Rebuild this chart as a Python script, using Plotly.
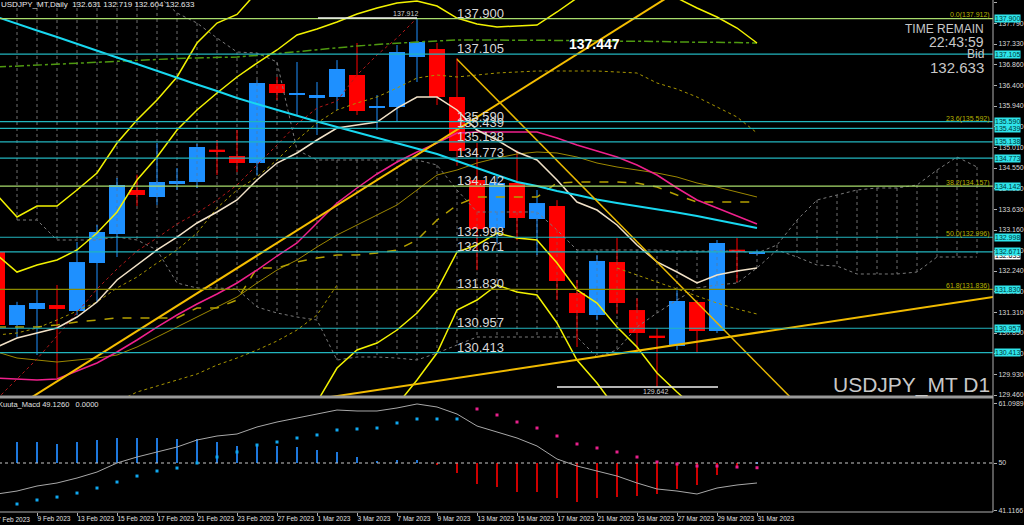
import plotly.graph_objects as go

# ---------------- data (bar index k: 0 = 7 Feb 2023) ----------------
DATES = ["7 Feb 2023", "8 Feb 2023", "9 Feb 2023", "10 Feb 2023", "13 Feb 2023", "14 Feb 2023",
         "15 Feb 2023", "16 Feb 2023", "17 Feb 2023", "20 Feb 2023", "21 Feb 2023", "22 Feb 2023",
         "23 Feb 2023", "24 Feb 2023", "27 Feb 2023", "28 Feb 2023", "1 Mar 2023", "2 Mar 2023",
         "3 Mar 2023", "6 Mar 2023", "7 Mar 2023", "8 Mar 2023", "9 Mar 2023", "10 Mar 2023",
         "13 Mar 2023", "14 Mar 2023", "15 Mar 2023", "16 Mar 2023", "17 Mar 2023", "20 Mar 2023",
         "21 Mar 2023", "22 Mar 2023", "23 Mar 2023", "24 Mar 2023", "27 Mar 2023", "28 Mar 2023",
         "29 Mar 2023", "30 Mar 2023", "31 Mar 2023"]

OPEN = [132.667, 131.030, 131.389, 131.478, 131.344, 132.420, 133.070, 134.057, 133.900, 134.191,
        134.236, 134.954, 134.819, 134.662, 136.434, 136.187, 136.120, 136.142, 136.635, 135.910,
        135.918, 137.039, 137.218, 136.142, 134.281, 133.205, 134.214, 133.407, 133.698, 131.747,
        131.254, 132.442, 131.366, 130.783, 130.559, 131.546, 130.895, 132.711, 132.631]
HIGH = [132.900, 131.550, 131.815, 131.927, 132.891, 133.272, 134.326, 134.400, 135.110, 134.550,
        135.088, 135.178, 135.402, 136.523, 136.591, 136.927, 136.478, 136.970, 137.353, 136.187,
        137.308, 137.912, 137.353, 137.017, 135.111, 134.390, 134.950, 134.057, 133.830, 132.040,
        132.600, 132.980, 131.630, 130.960, 131.810, 131.590, 132.936, 132.980, 132.719]
LOW = [130.850, 130.760, 130.357, 129.842, 131.250, 131.546, 132.555, 133.700, 133.720, 134.060,
       134.100, 134.393, 134.460, 134.393, 136.075, 135.739, 135.290, 135.851, 135.740, 135.402,
       135.581, 136.478, 135.963, 134.600, 132.260, 132.870, 132.930, 132.600, 131.590, 130.537,
       131.140, 131.280, 130.420, 129.642, 130.470, 130.424, 130.850, 131.990, 132.604]
CLOSE = [131.030, 131.478, 131.523, 131.389, 132.442, 133.115, 134.169, 133.945, 134.236, 134.259,
         135.021, 134.931, 134.662, 136.456, 136.232, 136.232, 136.187, 136.770, 135.828, 135.925,
         137.151, 137.375, 136.142, 134.931, 133.182, 134.214, 133.429, 133.765, 132.016, 131.299,
         132.466, 131.523, 130.851, 130.761, 131.568, 130.895, 132.868, 132.689, 132.633]

CYAN_MA = [137.936, 137.779, 137.633, 137.487, 137.330, 137.174, 137.028, 136.882, 136.725, 136.568,
           136.422, 136.277, 136.120, 135.985, 135.851, 135.727, 135.593, 135.469, 135.346, 135.223,
           135.100, 134.976, 134.864, 134.707, 134.550, 134.393, 134.236, 134.147, 134.035, 133.945,
           133.844, 133.765, 133.698, 133.631, 133.553, 133.474, 133.384, 133.295, 133.205]
MAGENTA_MA = [129.842, 129.819, 129.797, 129.819, 129.999, 130.178, 130.425, 130.694, 130.985, 131.254,
              131.501, 131.725, 131.972, 132.263, 132.577, 132.869, 133.317, 133.765, 134.102, 134.416,
              134.685, 134.909, 135.111, 135.335, 135.357, 135.357, 135.357, 135.357, 135.223, 135.066,
              134.931, 134.797, 134.617, 134.393, 134.102, 133.833, 133.653, 133.474, 133.295]
TENKAN = [130.537, 130.739, 130.851, 130.963, 131.209, 131.546, 132.039, 132.375, 132.712, 133.003,
          133.317, 133.564, 133.833, 134.281, 134.662, 134.887, 135.178, 135.447, 135.514, 135.582,
          135.895, 136.142, 136.142, 135.851, 135.402, 135.178, 134.909, 134.730, 134.281, 133.788,
          133.608, 133.272, 132.824, 132.443, 132.218, 131.972, 132.151, 132.241, 132.308]
RED_DOTTED = [129.371, 129.819, 130.268, 130.783, 131.321, 131.837, 132.286, 132.689, 132.981, 133.295,
              133.541, 133.833, 134.169, 134.617, 135.066, 135.537, 135.895, 136.052, 136.635, 137.084,
              137.465, 137.913]
OLIVE_SOLID = [130.425, 130.290, 130.245, 130.200, 130.245, 130.290, 130.357, 130.537, 130.761, 130.985,
               131.209, 131.434, 131.658, 131.972, 132.263, 132.487, 132.779, 133.048, 133.272, 133.496,
               133.721, 134.057, 134.393, 134.505, 134.662, 134.774, 134.864, 134.909, 134.887, 134.797,
               134.662, 134.573, 134.505, 134.438, 134.348, 134.214, 134.124, 134.012, 133.900]
OLIVE_DOT_UP = [130.806, 130.851, 130.963, 131.142, 131.344, 131.546, 131.860, 132.106, 132.420, 132.712,
                133.093, 133.653, 134.057, 134.348, 134.730, 135.178, 135.559, 135.851, 136.008, 136.142,
                136.344, 136.568, 136.635, 136.591, 136.635, 136.680, 136.703, 136.725, 136.725, 136.725,
                136.725, 136.703, 136.680, 136.456, 136.321, 136.142, 135.918, 135.694, 135.335]
OLIVE_DOT_LOW = [None, None, None, None, None, None, 129.304, 129.528, 129.662, 129.797,
                 129.931, 130.133, 130.290, 130.469, 130.671, 130.918, 131.254, 131.927, None, None,
                 None, None, None, None, None, None, None, None, None, None,
                 None, 132.308, 132.151, 131.994, 131.837, 131.680, 131.523, 131.389, 131.277]
OLIVE_DASH = [130.985, 130.985, 130.985, 131.030, 131.097, 131.142, 131.187, 131.187, 131.187, 131.187,
              131.411, 131.411, 131.591, 132.308, 132.308, 132.443, 132.532, 132.600, 132.600, 132.644,
              132.712, 132.936, 133.384, 133.721, 133.900, 133.900, 133.900, 133.900, 134.214, 134.236,
              134.236, 134.236, 134.214, 134.124, 133.945, 133.788, 133.788, 133.788, 133.788]
GREEN_DASHDOT = [136.815, 136.837, 136.860, 136.882, 136.904, 136.927, 136.949, 136.972, 136.994, 137.005,
                 137.017, 137.028, 137.039, 137.073, 137.117, 137.162, 137.207, 137.252, 137.286, 137.319,
                 137.353, 137.375, 137.398, 137.420, 137.420, 137.420, 137.420, 137.420, 137.420, 137.409,
                 137.398, 137.398, 137.387, 137.387, 137.375, 137.375, 137.364, 137.364, 137.353]
BAND_U1 = [133.945, 133.451, 133.698, 133.698, 134.057, 134.438, 135.111, 135.626, 136.075, 136.591,
           137.353, 137.801, 137.993, 138.496, 138.878]
BAND_U2 = [132.600, 132.218, 132.375, 132.487, 132.712, 133.093, 133.564, 134.281, 134.797, 135.402,
           135.851, 136.232, 136.591, 136.904, 137.196, 137.532, 137.667, 137.824, 138.003, 138.138,
           138.250, 138.295, 138.182, 137.913, 137.779, 137.712, 137.734, 137.756, 138.048, 138.362,
           138.721, 138.945, 138.990, 138.765, 138.362, 138.138, 137.936, 137.689, 137.353]
BAND_L2_START = 14
BAND_L2 = [127.779, 128.519, 129.304, 130.066, 130.469, 130.626, 130.918, 131.299, 131.815, 132.667,
           132.824, 133.093, 132.981, 132.936, 132.420, 131.815, 131.523, 130.985, 130.537, 129.954,
           129.528, 129.124, 128.676]
BAND_L1_START = 19
BAND_L1 = [128.676, 129.236, 129.797, 130.402, 131.366, 131.591, 131.927, 131.770, 131.703, 131.075,
           130.245, 129.730, 129.124, 128.452]

CLOUD_START = 1
CLOUD_HI = [138.541, 138.541, 138.541, 138.541, 138.541, 138.541, 138.541, 138.429, 138.026, 137.801,
            137.465, 137.151, 137.129, 136.927, 134.954, 134.730, 134.730, 134.730, 134.730, 134.730,
            134.730, 134.617, 134.057, 133.564, 133.564, 133.564, 133.564, 133.160, 132.712, 132.712,
            132.712, 132.712, 132.712, 132.689, 132.689, 132.689, 132.689, 132.644, 132.824, 133.384,
            133.833, 133.945, 134.057, 134.102, 134.102, 134.169, 134.505, 134.797, 134.573]
CLOUD_LO = [133.384, 133.384, 132.936, 132.936, 132.936, 133.003, 132.936, 132.712, 131.972, 131.860,
            131.860, 131.837, 131.434, 131.299, 131.209, 131.142, 130.245, 130.313, 130.313, 130.290,
            130.245, 130.402, 130.582, 130.761, 130.761, 130.761, 130.761, 130.761, 130.761, 130.313,
            130.469, 130.985, 131.299, 131.591, 131.860, 131.927, 131.972, 132.308, 132.712, 132.555,
            132.375, 132.353, 132.174, 132.174, 132.174, 132.218, 132.555, 132.555, 132.555]

TREND1_K, TREND1_P = [0, 34], [128.92, 138.51]
TREND2_K, TREND2_P = [16, 50], [129.37, 131.67]
TREND3_K, TREND3_P = [23, 40], [136.99, 129.26]

HIGH_MARK_K, HIGH_MARK_P = [16.05, 21], 137.912
LOW_MARK_K, LOW_MARK_P = [28, 36.05], 129.642

LEVELS = [137.900, 137.105, 135.590, 135.439, 135.138, 134.773, 134.142,
          132.998, 132.671, 131.830, 130.957, 130.413]
FIB_NAMES = ["0.0", "23.6", "38.2", "50.0", "61.8"]
FIB_PRICES = [137.912, 135.592, 134.157, 132.996, 131.836]
BID = 132.633
MA_LABEL = 137.447

PRICE_TICKS = [138.250, 137.790, 137.330, 136.860, 136.400, 135.940, 135.480, 135.010, 134.550,
               134.090, 133.630, 133.160, 132.700, 132.240, 131.780, 131.310, 130.850, 130.390,
               129.930, 129.460]

MACD_HIST = [53.89, 53.89, 53.52, 53.89, 54.26, 54.63, 54.63, 54.63, 54.44, 54.44,
             53.89, 53.15, 53.52, 53.15, 52.96, 52.41, 52.04, 51.11, 50.37, 50.56,
             50.56, 49.63, 48.15, 46.11, 45.56, 44.63, 44.63, 43.52, 42.78, 43.52,
             43.70, 43.89, 44.26, 45.19, 45.93, 47.78, 49.07, 50.05]
MACD_LINE = [44.26, 44.81, 45.74, 46.30, 47.22, 48.33, 50.00, 51.11, 52.04, 52.96,
             54.26, 55.00, 55.37, 56.67, 57.59, 58.33, 59.07, 59.81, 59.63, 59.63,
             60.19, 60.93, 60.37, 59.07, 56.85, 55.74, 54.63, 53.15, 50.74, 49.44,
             48.52, 47.59, 46.30, 45.19, 44.81, 44.26, 45.37, 45.93, 46.30]
MACD_DOTS_UP = [42.41, 43.15, 43.70, 44.44, 45.37, 46.48, 47.59, 48.52, 49.07, 50.00,
                51.11, 52.04, 53.33, 53.89, 54.63, 55.19, 56.11, 56.30, 56.48, 57.41,
                58.15, 58.15, 58.15]
MACD_DOTS_DOWN = [60.00, 58.89, 57.59, 56.48, 55.00, 53.52, 52.78, 52.04, 51.11, 50.19,
                  49.81, 49.44, 49.44, 49.26, 49.126]
MACD_TICKS = [61.0989, 50, 41.1166]

# ---------------- geometry ----------------
W, H = 1024, 525
PLOT_W = 993
MAIN_BOTTOM_PX, MACD_TOP_PX, MACD_BOTTOM_PX = 397, 399, 512
X_RANGE = [0.15, 49.8]
Y_RANGE = [129.416, 138.317]
Y2_RANGE = [40.93, 61.85]


def py(px):  # paper y from pixel y
    return 1 - px / H


def pxx(px):  # paper x from pixel x
    return px / PLOT_W


FONT = "Liberation Sans"
BLUE = "#1E90FF"
RED = "#FF0000"
TEAL = "#22B4BE"
LEVEL_COLORS = {137.900: "#A8DC6C", 134.142: "#A8DC6C", 131.830: "#8C8A00"}

fig = go.Figure()
n = len(OPEN)
ks = list(range(n))
up = [CLOSE[i] >= OPEN[i] for i in ks]

# candle bodies (first trace so lines are drawn above)
for flag, col in ((True, BLUE), (False, RED)):
    idx = [i for i in ks if up[i] == flag]
    fig.add_trace(go.Bar(
        x=idx, base=[min(OPEN[i], CLOSE[i]) for i in idx],
        y=[max(abs(CLOSE[i] - OPEN[i]), 0.03) for i in idx],
        width=0.8, marker=dict(color=col, line=dict(width=0)),
        yaxis="y", xaxis="x", hoverinfo="skip", showlegend=False))

# MACD histogram
hk = list(range(1, len(MACD_HIST) + 1))
for flag, col in ((True, "#1E78DC"), (False, "#CC0000")):
    idx = [j for j in range(len(MACD_HIST)) if (MACD_HIST[j] >= 50) == flag]
    fig.add_trace(go.Bar(
        x=[hk[j] for j in idx], base=50, y=[MACD_HIST[j] - 50 for j in idx],
        width=0.1, marker=dict(color=col, line=dict(width=0)),
        yaxis="y2", xaxis="x", hoverinfo="skip", showlegend=False))

# ichimoku cloud hatches and spans
ck = list(range(CLOUD_START, CLOUD_START + len(CLOUD_HI)))
hx, hy = [], []
for j, k in enumerate(ck):
    hx += [k, k, None]
    hy += [CLOUD_HI[j], CLOUD_LO[j], None]
fig.add_trace(go.Scatter(x=hx, y=hy, mode="lines", line=dict(color="#6E6E6E", width=1, dash="dot"),
                         hoverinfo="skip", showlegend=False))
for arr in (CLOUD_HI, CLOUD_LO):
    fig.add_trace(go.Scatter(x=ck, y=arr, mode="lines", line=dict(color="#7A7A7A", width=1, dash="dot"),
                             hoverinfo="skip", showlegend=False))

# wicks
for flag, col in ((True, BLUE), (False, RED)):
    wx, wy = [], []
    for i in ks:
        if up[i] == flag:
            wx += [i, i, None]
            wy += [LOW[i], HIGH[i], None]
    fig.add_trace(go.Scatter(x=wx, y=wy, mode="lines", line=dict(color=col, width=1),
                             hoverinfo="skip", showlegend=False))


def line(x, y, color, width=1.0, dash="solid"):
    fig.add_trace(go.Scatter(x=x, y=y, mode="lines", line=dict(color=color, width=width, dash=dash),
                             hoverinfo="skip", showlegend=False, connectgaps=False))


line(ks, OLIVE_DOT_LOW, "#A89600", 1, "dot")
line(ks, OLIVE_DOT_UP, "#A89600", 1, "dot")
line(ks, OLIVE_SOLID, "#9C8700", 1)
line(ks, OLIVE_DASH, "#B4A000", 1.5, "dash")
line(list(range(len(RED_DOTTED))), RED_DOTTED, "#B01818", 1, "dot")
line(ks, GREEN_DASHDOT, "#4F9A10", 1.5, "dashdot")
line(list(range(len(BAND_U1))), BAND_U1, "#F2F200", 1.5)
line(ks, BAND_U2, "#F2F200", 1.5)
line(list(range(BAND_L2_START, BAND_L2_START + len(BAND_L2))), BAND_L2, "#F2F200", 1.5)
line(list(range(BAND_L1_START, BAND_L1_START + len(BAND_L1))), BAND_L1, "#F2F200", 1.5)
line(ks, MAGENTA_MA, "#F0208C", 1.5)
line(ks, TENKAN, "#F2E2C8", 1.5)
line(ks, CYAN_MA, "#18D8F0", 2)
line(TREND1_K, TREND1_P, "#F5BE00", 2)
line(TREND2_K, TREND2_P, "#F0BA00", 2)
line(TREND3_K, TREND3_P, "#E8B800", 1.5)

# horizontal levels
for lv in LEVELS:
    line([-2, 52], [lv, lv], LEVEL_COLORS.get(lv, TEAL), 1.2)
line(HIGH_MARK_K, [HIGH_MARK_P] * 2, "#F0F0F0", 1.5)
line(LOW_MARK_K, [LOW_MARK_P] * 2, "#F0F0F0", 1.5)

# MACD line, zero(50) line and dots
fig.add_trace(go.Scatter(x=[-2, 52], y=[50, 50], mode="lines", yaxis="y2",
                         line=dict(color="#C8C8C8", width=1, dash="dot"), hoverinfo="skip", showlegend=False))
fig.add_trace(go.Scatter(x=ks, y=MACD_LINE, mode="lines", yaxis="y2",
                         line=dict(color="#A8A8A8", width=1), hoverinfo="skip", showlegend=False))
fig.add_trace(go.Scatter(x=list(range(1, 1 + len(MACD_DOTS_UP))), y=MACD_DOTS_UP, mode="markers", yaxis="y2",
                         marker=dict(color="#10A8F0", size=3, symbol="square"), hoverinfo="skip", showlegend=False))
d0 = 1 + len(MACD_DOTS_UP)
fig.add_trace(go.Scatter(x=list(range(d0, d0 + len(MACD_DOTS_DOWN))), y=MACD_DOTS_DOWN, mode="markers",
                         yaxis="y2", marker=dict(color="#E8208C", size=3, symbol="square"),
                         hoverinfo="skip", showlegend=False))

# ---------------- annotations ----------------
ann = []
for lv in LEVELS:
    ann.append(dict(x=pxx(455), xref="paper", y=lv, yref="y", xanchor="left", yanchor="bottom",
                    text=f"{lv:.3f}", showarrow=False, yshift=-4,
                    font=dict(family=FONT, size=13, color="#D8D8D8")))
for name, p in zip(FIB_NAMES, FIB_PRICES):
    ann.append(dict(x=1, xref="paper", y=p, yref="y", xanchor="right", yanchor="bottom", xshift=-1, yshift=-3,
                    text=f"{name}({p:.3f})", showarrow=False, font=dict(family=FONT, size=7, color="#B8B400")))
ann.append(dict(x=1, xref="paper", y=BID, yref="y", xanchor="left", yanchor="middle", xshift=1, yshift=-2,
                text=f"{BID:.3f}", showarrow=False, bgcolor="#FFFFFF", borderpad=0,
                font=dict(family=FONT, size=7, color="#000000")))
for lv in LEVELS:
    ann.append(dict(x=1, xref="paper", y=lv, yref="y", xanchor="left", yanchor="middle", xshift=1,
                    text=f"{lv:.3f}", showarrow=False, bgcolor="#2EE4EA", borderpad=0,
                    font=dict(family=FONT, size=7, color="#003838")))
ann.append(dict(x=(HIGH_MARK_K[0] + HIGH_MARK_K[1]) / 2 + 1.9, xref="x", y=HIGH_MARK_P, yref="y",
                xanchor="center", yanchor="bottom", yshift=-1, text=f"{HIGH_MARK_P:.3f}", showarrow=False,
                font=dict(family=FONT, size=7, color="#D0D0D0")))
ann.append(dict(x=(LOW_MARK_K[0] + LOW_MARK_K[1]) / 2 + 0.9, xref="x", y=LOW_MARK_P, yref="y",
                xanchor="center", yanchor="top", yshift=1, text=f"{LOW_MARK_P:.3f}", showarrow=False,
                font=dict(family=FONT, size=7, color="#D0D0D0")))
ann.append(dict(x=pxx(567), xref="paper", y=py(44), yref="paper", xanchor="left", yanchor="middle",
                text=f"<b>{MA_LABEL:.3f}</b>", showarrow=False, font=dict(family=FONT, size=14, color="#FFFFFF")))
for txt, ypx, size in (("TIME REMAIN", 29, 12), ("22:43:59", 42, 14), ("Bid", 54, 12),
                       (f"{BID:.3f}", 67, 15)):
    ann.append(dict(x=pxx(986), xref="paper", y=py(ypx), yref="paper", xanchor="right", yanchor="middle",
                    text=txt, showarrow=False, font=dict(family=FONT, size=size, color="#C8C8C8")))
ann.append(dict(x=pxx(992), xref="paper", y=py(385), yref="paper", xanchor="right", yanchor="middle",
                text="USDJPY_MT D1", showarrow=False, font=dict(family=FONT, size=21, color="#C8C8C8")))
ann.append(dict(x=0, xref="paper", y=py(4), yref="paper", xanchor="left", yanchor="middle", xshift=-1,
                text=f"USDJPY_MT,Daily  {OPEN[-1]:.3f} {HIGH[-1]:.3f} {LOW[-1]:.3f} {CLOSE[-1]:.3f}",
                showarrow=False, font=dict(family=FONT, size=8, color="#E8E8E8")))
ann.append(dict(x=0, xref="paper", y=py(404), yref="paper", xanchor="left", yanchor="middle", xshift=-4,
                text=f"Kuuta_Macd {MACD_DOTS_DOWN[-1]:.4f}   0.0000",
                showarrow=False, font=dict(family=FONT, size=7.5, color="#E0E0E0")))
ann.append(dict(x=0, xref="paper", y=py(519), yref="paper", xanchor="left", yanchor="middle", xshift=-5,
                text=DATES[0], showarrow=False, font=dict(family=FONT, size=6.5, color="#E0E0E0")))

shapes = [
    dict(type="rect", xref="paper", yref="paper", x0=0, x1=1, y0=py(398.5), y1=py(395.5),
         fillcolor="#9A9A9A", line=dict(width=0), layer="above"),
    dict(type="line", xref="paper", yref="paper", x0=1, x1=1, y0=py(MACD_BOTTOM_PX), y1=1,
         line=dict(color="#B0B0B0", width=1), layer="above"),
    dict(type="line", xref="paper", yref="paper", x0=0, x1=1, y0=py(MACD_BOTTOM_PX), y1=py(MACD_BOTTOM_PX),
         line=dict(color="#B0B0B0", width=1), layer="above"),
]

tick_k = list(range(2, n, 2))
fig.update_layout(
    width=W, height=H, margin=dict(l=0, r=W - PLOT_W, t=0, b=0),
    paper_bgcolor="#000000", plot_bgcolor="#000000", barmode="overlay", showlegend=False,
    font=dict(family=FONT, color="#D0D0D0"),
    xaxis=dict(range=X_RANGE, anchor="y2", showgrid=False, zeroline=False, showline=False,
               tickvals=tick_k, ticktext=[DATES[k] for k in tick_k], ticks="outside", ticklen=3,
               tickcolor="#B0B0B0", ticklabelposition="outside right", tickangle=0,
               tickfont=dict(family=FONT, size=6.5, color="#E0E0E0"), automargin=False, fixedrange=True),
    yaxis=dict(domain=[py(MAIN_BOTTOM_PX), 1], range=Y_RANGE, side="right", anchor="x", showgrid=False,
               zeroline=False, tickvals=PRICE_TICKS, ticktext=[f"{t:.3f}" for t in PRICE_TICKS],
               ticks="outside", ticklen=3, tickcolor="#B0B0B0",
               tickfont=dict(family=FONT, size=7, color="#D8D8D8"), automargin=False),
    yaxis2=dict(domain=[py(MACD_BOTTOM_PX), py(MACD_TOP_PX)], range=Y2_RANGE, side="right", anchor="x",
                showgrid=False, zeroline=False, tickvals=MACD_TICKS, ticktext=["61.0989", "50", "41.1166"],
                ticks="outside", ticklen=3, tickcolor="#B0B0B0",
                tickfont=dict(family=FONT, size=7, color="#D8D8D8"), automargin=False),
    annotations=ann, shapes=shapes,
)

fig.write_html("out.html", config={"displayModeBar": False},
               post_script="document.body.style.margin='0';document.body.style.padding='0';"
                           "document.body.style.overflow='hidden';document.body.style.background='#000';")
